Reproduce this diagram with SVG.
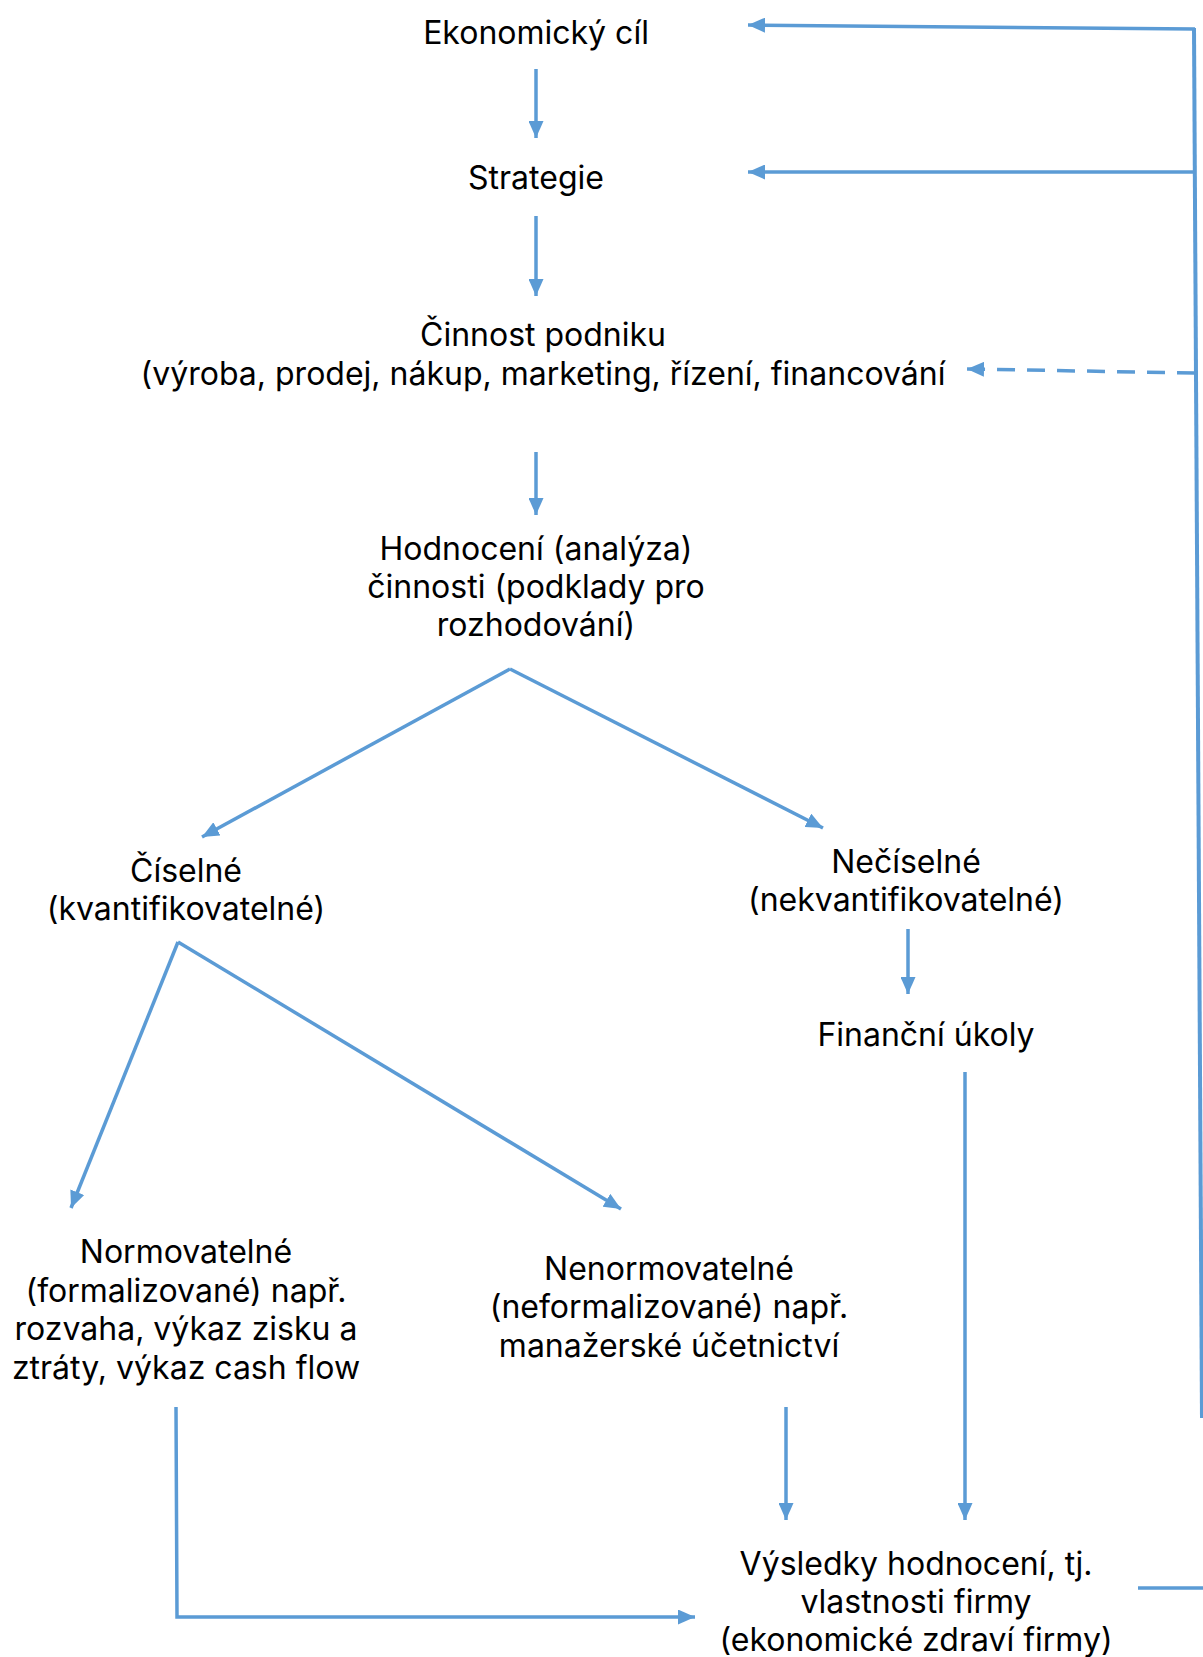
<svg xmlns="http://www.w3.org/2000/svg" width="1203" height="1657" viewBox="0 0 1203 1657">
<style>
  .t { font-family: Inter, "Noto Sans", "Liberation Sans", sans-serif; font-size: 32px; fill: #000; text-anchor: middle; }
  .c { fill: none; stroke: #5B9BD5; stroke-width: 3.5; }
  .a { marker-end: url(#ah); }
  .d { stroke-dasharray: 18 12; }
</style>
<defs>
  <marker id="ah" markerUnits="userSpaceOnUse" markerWidth="17" markerHeight="15" refX="17" refY="7.5" orient="auto">
    <path d="M0,0 L17,7.5 L0,15 z" fill="#5B9BD5"/>
  </marker>
</defs>
<rect width="1203" height="1657" fill="#fff"/>

<g id="n-ekonomicky"><text class="t" x="536" y="44">Ekonomický cíl</text></g>
<g id="n-strategie"><text class="t" x="536" y="189">Strategie</text></g>
<g id="n-cinnost">
  <text class="t" x="543" y="346">Činnost podniku</text>
  <text class="t" x="543" y="385">(výroba, prodej, nákup, marketing, řízení, financování</text>
</g>
<g id="n-hodnoceni">
  <text class="t" x="536" y="560">Hodnocení (analýza)</text>
  <text class="t" x="536" y="598">činnosti (podklady pro</text>
  <text class="t" x="536" y="636">rozhodování)</text>
</g>
<g id="n-ciselne">
  <text class="t" x="186" y="882">Číselné</text>
  <text class="t" x="186" y="920">(kvantifikovatelné)</text>
</g>
<g id="n-neciselne">
  <text class="t" x="906" y="873">Nečíselné</text>
  <text class="t" x="906" y="911">(nekvantifikovatelné)</text>
</g>
<g id="n-financni"><text class="t" x="926" y="1046">Finanční úkoly</text></g>
<g id="n-normovatelne">
  <text class="t" x="186" y="1263">Normovatelné</text>
  <text class="t" x="186" y="1302">(formalizované) např.</text>
  <text class="t" x="186" y="1340">rozvaha, výkaz zisku a</text>
  <text class="t" x="186" y="1379">ztráty, výkaz cash flow</text>
</g>
<g id="n-nenormovatelne">
  <text class="t" x="669" y="1280">Nenormovatelné</text>
  <text class="t" x="669" y="1318">(neformalizované) např.</text>
  <text class="t" x="669" y="1357">manažerské účetnictví</text>
</g>
<g id="n-vysledky">
  <text class="t" x="916" y="1575">Výsledky hodnocení, tj.</text>
  <text class="t" x="916" y="1613">vlastnosti firmy</text>
  <text class="t" x="916" y="1651">(ekonomické zdraví firmy)</text>
</g>

<g id="connectors">
  <line class="c a" x1="536" y1="69" x2="536" y2="138"/>
  <line class="c a" x1="536" y1="216" x2="536" y2="296"/>
  <line class="c a" x1="536" y1="452" x2="536" y2="515"/>
  <line class="c a" x1="510" y1="669" x2="202" y2="837"/>
  <line class="c a" x1="510" y1="669" x2="823" y2="828"/>
  <line class="c a" x1="908" y1="929" x2="908" y2="994"/>
  <line class="c a" x1="178" y1="942" x2="71" y2="1208"/>
  <line class="c a" x1="178" y1="942" x2="621" y2="1209"/>
  <line class="c a" x1="965" y1="1072" x2="965" y2="1520"/>
  <line class="c a" x1="786" y1="1407" x2="786" y2="1520"/>
  <polyline class="c a" points="176,1407 177,1617 695,1617"/>
  <line class="c" x1="1138" y1="1588" x2="1203" y2="1588"/>
  <line class="c" x1="1194" y1="28" x2="1202" y2="1418" style="stroke-width:4"/>
  <line class="c a" x1="1195" y1="29" x2="748" y2="25"/>
  <line class="c a" x1="1195" y1="172" x2="748" y2="172"/>
  <line class="c a d" x1="1195" y1="373" x2="967" y2="369"/>
</g>
</svg>
